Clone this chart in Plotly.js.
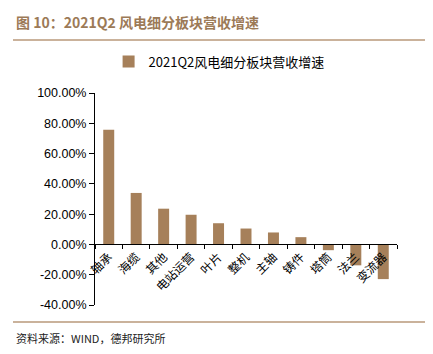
<!DOCTYPE html>
<html><head><meta charset="utf-8">
<script src="https://cdn.plot.ly/plotly-3.0.1.min.js"></script>
<style>html,body{margin:0;padding:0;background:#fff}#chart{width:433px;height:354px}</style>
</head><body><div id="chart"></div>
<script>
const categories = ['轴承','海缆','其他','电站运营','叶片','整机','主轴','铸件','塔筒','法兰','变流器'];
const growth = [75.8, 34.0, 23.6, 19.6, 14.0, 10.5, 7.9, 4.8, -3.8, -13.8, -22.9];
const seriesName = '2021Q2风电细分板块营收增速';
const yTicks = [-40, -20, 0, 20, 40, 60, 80, 100];

const cjk = '"Noto Sans CJK SC", "Liberation Sans", sans-serif';
const lat = '"Liberation Sans", Arial, sans-serif';

const trace = {
  type: 'bar', x: categories, y: growth, name: seriesName,
  marker: {color: '#A6805A'}, showlegend: true
};

const layout = {
  width: 433, height: 354,
  margin: {l: 95, r: 36, t: 93, b: 49},
  paper_bgcolor: '#fff', plot_bgcolor: '#fff',
  bargap: 0.6,
  showlegend: true,
  legend: {x: 0.045, y: 1.2 + 4/212, xanchor: 'left', yanchor: 'top', orientation: 'h',
    font: {family: cjk, size: 13, color: '#000'}, itemwidth: 30, bgcolor: 'rgba(0,0,0,0)'},
  xaxis: {
    anchor: 'free', position: 40/140,
    tickangle: -45, tickfont: {family: cjk, size: 12, color: '#000'},
    showline: true, linecolor: '#000', linewidth: 1,
    ticks: 'outside', ticklen: 4, tickcolor: '#000', tickson: 'boundaries',
    showgrid: false, zeroline: false, fixedrange: true
  },
  yaxis: {
    range: [-40, 100], tickvals: yTicks,
    ticktext: yTicks.map(v => v.toFixed(2) + '%'),
    tickfont: {family: lat, size: 12.5, color: '#000'},
    showline: true, linecolor: '#000', linewidth: 1,
    ticks: 'outside', ticklen: 5, tickcolor: '#000',
    showgrid: false, zeroline: false, fixedrange: true
  },
  shapes: [
    {type: 'line', xref: 'paper', yref: 'paper', x0: -82/302, x1: 330/302, y0: (305-40)/212, y1: (305-40)/212,
      line: {color: '#B8987A', width: 1.5}},
    {type: 'line', xref: 'paper', yref: 'paper', x0: -82/302, x1: 330/302, y0: (305-322)/212, y1: (305-322)/212,
      line: {color: '#B8987A', width: 1.5}}
  ],
  annotations: [
    {xref: 'paper', yref: 'paper', x: -81/302, y: (305-22)/212, xanchor: 'left', yanchor: 'middle',
      text: '<b>图 10：2021Q2 风电细分板块营收增速</b>', showarrow: false,
      font: {family: cjk, size: 14, color: '#9C7A57'}},
    {xref: 'paper', yref: 'paper', x: -81/302, y: (305-338)/212, xanchor: 'left', yanchor: 'middle',
      text: '资料来源：WIND，德邦研究所', showarrow: false,
      font: {family: cjk, size: 11, color: '#222'}}
  ]
};

Plotly.newPlot('chart', [trace], layout, {staticPlot: true, displayModeBar: false});
</script></body></html>
